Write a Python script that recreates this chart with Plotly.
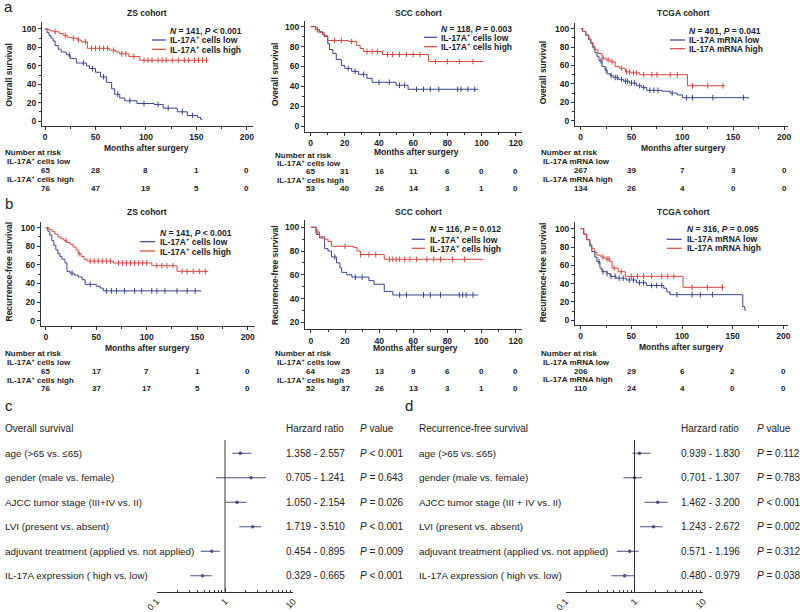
import numpy as np
import plotly.graph_objects as go

W, H = 800, 612

# ---------------- Kaplan-Meier curves (months, survival %) ----------------
# a: overall survival
a_zs_low_t = [0, 2, 4, 6, 8, 10, 13, 16, 21, 25, 31, 41, 44, 50, 55, 61, 66, 69, 74, 79, 91, 108, 117, 131, 141, 151, 154, 156]
a_zs_low_s = [100, 96, 93, 90, 87, 82, 78, 75, 72, 68, 63, 60, 57, 53, 48, 42, 35, 29, 25, 22, 19, 18, 14, 10, 6, 4, 2, 2]
a_zs_high_t = [0, 4, 8, 14, 18, 22, 26, 32, 36, 42, 64, 70, 74, 83, 94, 162]
a_zs_high_s = [100, 98, 97, 95, 93, 91, 90, 88, 86, 79, 77, 75, 73, 70, 66, 66]
a_zs_low_cens = [24, 38, 47, 58, 72, 84, 98, 112, 122, 136, 146]
a_zs_high_cens = [10, 20, 28, 33, 40, 46, 50, 54, 58, 62, 68, 76, 80, 88, 98, 102, 106, 112, 116,
                  120, 126, 132, 138, 142, 148, 152, 156, 160]

a_scc_low_t = [0, 3, 5, 7, 8, 10, 11, 13, 15, 18, 20, 24, 28, 33, 36, 50, 57, 98]
a_scc_low_s = [100, 97, 95, 92, 90, 83, 77, 73, 67, 61, 58, 55, 52, 48, 44, 41, 37, 37]
a_scc_high_t = [0, 3, 5, 8, 10, 22, 27, 29, 31, 42, 69, 101]
a_scc_high_s = [100, 97, 94, 91, 86, 85, 81, 78, 75, 72, 65, 65]
a_scc_low_cens = [22, 26, 31, 40, 46, 52, 55, 62, 66, 70, 75, 86, 88, 92, 96]
a_scc_high_cens = [4, 14, 18, 24, 33, 36, 39, 45, 48, 52, 56, 60, 64, 73, 80, 87, 95]

a_tcga_low_t = [0, 2, 5, 8, 10, 12, 14, 16, 18, 21, 24, 26, 29, 32, 37, 42, 48, 55, 60, 65, 80, 88, 95, 100, 165]
a_tcga_low_s = [100, 97, 93, 88, 84, 79, 74, 70, 65, 59, 55, 51, 49, 47, 45, 43, 41, 38, 36, 33, 32, 30, 28, 25, 24]
a_tcga_high_t = [0, 2, 5, 8, 10, 12, 14, 17, 21, 25, 29, 34, 38, 44, 50, 58, 105, 142]
a_tcga_high_s = [100, 97, 93, 89, 85, 81, 77, 73, 68, 66, 64, 59, 57, 53, 52, 50, 38, 38]
a_tcga_low_cens = [20, 25, 30, 34, 36, 40, 44, 46, 50, 53, 58, 62, 68, 72, 76, 90, 104, 110, 130, 160]
a_tcga_high_cens = [22, 27, 31, 40, 45, 48, 52, 55, 62, 70, 75, 88, 95, 110, 125, 140]

# b: recurrence-free survival
b_zs_low_t = [0, 2, 4, 6, 8, 10, 12, 14, 16, 19, 21, 24, 28, 32, 36, 39, 50, 54, 57, 154]
b_zs_low_s = [100, 96, 92, 86, 81, 76, 72, 69, 66, 62, 53, 51, 49, 47, 44, 39, 37, 35, 32, 32]
b_zs_high_t = [0, 3, 6, 9, 12, 15, 18, 21, 24, 27, 30, 32, 35, 38, 41, 67, 105, 130, 161]
b_zs_high_s = [100, 98, 96, 93, 90, 88, 86, 84, 82, 79, 76, 72, 69, 66, 64, 62, 59, 53, 53]
b_zs_low_cens = [26, 44, 60, 65, 70, 78, 88, 95, 105, 110, 118, 130, 140, 148]
b_zs_high_cens = [20, 33, 44, 48, 52, 56, 60, 64, 72, 76, 80, 84, 88, 92, 96, 100, 110, 115, 120,
                  126, 135, 140, 146, 152, 158]

b_scc_low_t = [0, 3, 5, 8, 10, 12, 15, 17, 18, 21, 24, 34, 37, 43, 48, 98]
b_scc_low_s = [100, 94, 91, 82, 80, 75, 70, 66, 62, 60, 58, 55, 52, 46, 43, 43]
b_scc_high_t = [0, 3, 5, 8, 10, 12, 25, 27, 29, 43, 101]
b_scc_high_s = [100, 96, 92, 90, 88, 84, 83, 80, 77, 73, 73]
b_scc_low_cens = [14, 26, 30, 52, 56, 66, 70, 76, 87, 89, 91, 95]
b_scc_high_cens = [4, 20, 29, 34, 38, 46, 48, 50, 52, 55, 58, 62, 68, 72, 76, 83, 90]

b_tcga_low_t = [0, 3, 6, 9, 11, 14, 16, 19, 21, 26, 29, 35, 45, 55, 65, 82, 85, 88, 160, 162, 163]
b_tcga_low_s = [100, 94, 88, 81, 75, 69, 64, 57, 53, 51, 48, 46, 44, 41, 38, 35, 31, 28, 15, 11, 11]
b_tcga_high_t = [0, 3, 6, 9, 11, 14, 16, 20, 24, 29, 31, 37, 44, 101, 142]
b_tcga_high_s = [100, 94, 88, 83, 78, 74, 71, 69, 67, 64, 57, 53, 48, 36, 36]
b_tcga_low_cens = [18, 22, 26, 30, 34, 38, 42, 48, 52, 58, 62, 70, 75, 80, 95, 110, 118, 130]
b_tcga_high_cens = [22, 26, 28, 33, 40, 50, 56, 62, 70, 80, 86, 92, 110, 125, 140]

# ---------------- Number at risk ----------------
risk_t_long = [0, 50, 100, 150, 200]
risk_t_scc = [0, 20, 40, 60, 80, 100, 120]
a_zs_risk_low = [65, 28, 8, 1, 0]
a_zs_risk_high = [76, 47, 19, 5, 0]
a_scc_risk_low = [65, 31, 16, 11, 6, 0, 0]
a_scc_risk_high = [53, 40, 26, 14, 3, 1, 0]
a_tcga_risk_low = [267, 39, 7, 3, 0]
a_tcga_risk_high = [134, 26, 4, 0, 0]
b_zs_risk_low = [65, 17, 7, 1, 0]
b_zs_risk_high = [76, 37, 17, 5, 0]
b_scc_risk_low = [64, 25, 13, 9, 6, 0, 0]
b_scc_risk_high = [52, 37, 26, 13, 3, 1, 0]
b_tcga_risk_low = [206, 29, 6, 2, 0]
b_tcga_risk_high = [110, 24, 4, 0, 0]

# ---------------- Forest plots ----------------
c_names = ["age (>65 vs. ≤65)", "gender (male vs. female)", "AJCC tumor stage (III+IV vs. II)",
           "LVI (present vs. absent)", "adjuvant treatment (applied vs. not applied)",
           "IL-17A expression ( high vs. low)"]
c_hr = [1.68, 2.41, 1.50, 2.55, 0.64, 0.47]
c_lo = [1.28, 0.74, 1.01, 1.62, 0.44, 0.31]
c_hi = [2.44, 4.00, 2.08, 3.38, 0.84, 0.64]
c_ci = ["1.358 - 2.557", "0.705 - 1.241", "1.050 - 2.154", "1.719 - 3.510", "0.454 - 0.895", "0.329 - 0.665"]
c_p = ["< 0.001", "= 0.643", "= 0.026", "< 0.001", "= 0.009", "< 0.001"]

d_names = ["age (>65 vs. ≤65)", "gender (male vs. female)", "AJCC tumor stage (III + IV vs. II)",
           "LVI (present vs. absent)", "adjuvant treatment (applied vs. not applied)",
           "IL-17A expression ( high vs. low)"]
d_hr = [1.18, 1.00, 2.18, 1.89, 0.85, 0.72]
d_lo = [0.93, 0.69, 1.40, 1.21, 0.55, 0.46]
d_hi = [1.70, 1.29, 3.04, 2.56, 1.15, 1.00]
d_ci = ["0.939 - 1.830", "0.701 - 1.307", "1.462 - 3.200", "1.243 - 2.672", "0.571 - 1.196", "0.480 - 0.979"]
d_p = ["= 0.112", "= 0.783", "< 0.001", "= 0.002", "= 0.312", "= 0.038"]
rows = [1, 2, 3, 4, 5, 6]

BLUE = "#39448f"
RED = "#d8463e"
DARK = "#4a4f7c"
INK = "#222222"
FONT = "Liberation Sans, Arial, sans-serif"
NARROW = "Liberation Sans Narrow, Arial Narrow, Liberation Sans, sans-serif"

fig = go.Figure()
annotations = []
shapes = []


def ann(x, y, s, size=8.5, bold=False, xanchor="left", xref="paper", yref="paper",
        family=FONT, angle=0):
    if xref == "paper":
        x = x / W
    if yref == "paper":
        y = 1 - y / H
    annotations.append(dict(x=x, y=y, xref=xref, yref=yref, text=f"<b>{s}</b>" if bold else s,
                            showarrow=False, xanchor=xanchor, yanchor="middle", textangle=angle,
                            borderpad=0, font=dict(size=size, family=family, color=INK)))


def step_at(t, s, tc):
    idx = np.searchsorted(np.array(t), np.array(tc), side="right") - 1
    return np.array(s)[idx]


def axkey(letter, n):
    return f"{letter}axis" if n == 1 else f"{letter}axis{n}"


def ref(letter, n):
    return letter if n == 1 else f"{letter}{n}"


def km(n, box, xr, yr, xdt, curves, title, title_xy, ytitle, ytitle_xy, xtitle_xy, legend, risk):
    x0, x1, y0, y1 = box
    tickfont = dict(size=8.5, family=FONT, color=INK, weight="bold")
    fig.update_layout({
        axkey("x", n): dict(domain=[x0 / W, x1 / W], range=xr, anchor=ref("y", n), showline=True,
                            linecolor="#333", linewidth=1, ticks="outside", ticklen=3, tickcolor="#333",
                            tick0=0, dtick=xdt, showgrid=False, zeroline=False, tickfont=tickfont,
                            minor=dict(ticks="outside", ticklen=2, dtick=xdt / 2, tickcolor="#333")),
        axkey("y", n): dict(domain=[1 - y1 / H, 1 - y0 / H], range=yr, anchor=ref("x", n), showline=True,
                            linecolor="#333", linewidth=1, ticks="outside", ticklen=3, tickcolor="#333",
                            tick0=0, dtick=20, showgrid=False, zeroline=False, tickfont=tickfont,
                            minor=dict(ticks="outside", ticklen=2, dtick=10, tickcolor="#333")),
    })
    for t, s, cens, color in curves:
        fig.add_trace(go.Scatter(x=t, y=s, mode="lines", line=dict(shape="hv", width=1, color=color),
                                 xaxis=ref("x", n), yaxis=ref("y", n), hoverinfo="skip"))
        fig.add_trace(go.Scatter(x=cens, y=step_at(t, s, cens), mode="markers",
                                 marker=dict(symbol="line-ns", size=4, line=dict(width=1, color=color)),
                                 xaxis=ref("x", n), yaxis=ref("y", n), hoverinfo="skip"))
    ann(title_xy[0], title_xy[1], title, bold=True, xanchor="center")
    ann(ytitle_xy[0], ytitle_xy[1], ytitle, bold=True, xanchor="center", angle=-90)
    ann(xtitle_xy[0], xtitle_xy[1], "Months after surgery", bold=True, xanchor="center")
    lx0, lx1, tx, yN, ylow, yhigh, ntext, lowlab, highlab = legend
    ann(tx, yN, ntext, size=8.5, bold=True)
    ann(tx, ylow, lowlab, size=8.5, bold=True)
    ann(tx, yhigh, highlab, size=8.5, bold=True)
    for yy, col in ((ylow, BLUE), (yhigh, RED)):
        shapes.append(dict(type="line", xref="paper", yref="paper", x0=lx0 / W, x1=lx1 / W,
                           y0=1 - yy / H, y1=1 - yy / H, line=dict(color=col, width=1.2)))
    times, low_n, high_n, lab_x, ry = risk
    ann(lab_x - 2, ry[0], "Number at risk", size=8, bold=True)
    ann(lab_x, ry[1], lowlab, size=8, bold=True)
    ann(lab_x, ry[3], highlab, size=8, bold=True)
    for tt, lo, hi in zip(times, low_n, high_n):
        ann(tt, ry[2], str(lo), size=8, bold=True, xanchor="center", xref=ref("x", n), family=NARROW)
        ann(tt, ry[4], str(hi), size=8, bold=True, xanchor="center", xref=ref("x", n), family=NARROW)


LOW_IHC = "IL-17A<sup>+</sup> cells low"
HIGH_IHC = "IL-17A<sup>+</sup> cells high"
LOW_RNA = "IL-17A mRNA low"
HIGH_RNA = "IL-17A mRNA high"
ra = [152.7, 161.5, 170.2, 179, 188]
rb = [353.3, 362.3, 371, 379.6, 388.3]

km(1, (42, 253, 21.7, 126), [-3, 206], [-5.4, 107.9], 50,
   [(a_zs_low_t, a_zs_low_s, a_zs_low_cens, BLUE), (a_zs_high_t, a_zs_high_s, a_zs_high_cens, RED)],
   "ZS cohort", (146.7, 13.3), "Overall survival", (8.5, 75), (146.7, 147.7),
   (152, 166, 169, 31, 40, 49.3, "<i>N</i> = 141, <i>P</i> < 0.001", LOW_IHC, HIGH_IHC),
   (risk_t_long, a_zs_risk_low, a_zs_risk_high, 6, ra))
km(2, (305, 521.7, 20.7, 131.7), [-3.3, 123.5], [-5.7, 106], 20,
   [(a_scc_low_t, a_scc_low_s, a_scc_low_cens, BLUE), (a_scc_high_t, a_scc_high_s, a_scc_high_cens, RED)],
   "SCC cohort", (418.3, 13.3), "Overall survival", (275, 75), (416.7, 151.7),
   (424, 437, 440, 29, 37.3, 46.7, "<i>N</i> = 118, <i>P</i> = 0.003", LOW_IHC, HIGH_IHC),
   (risk_t_scc, a_scc_risk_low, a_scc_risk_high, 276, [155, 163.5, 171.8, 180.2, 188.3]))
km(3, (575, 788, 23.3, 126), [-5.6, 203.9], [-5.8, 105.9], 50,
   [(a_tcga_low_t, a_tcga_low_s, a_tcga_low_cens, BLUE), (a_tcga_high_t, a_tcga_high_s, a_tcga_high_cens, RED)],
   "TCGA cohort", (683.3, 13.3), "Overall survival", (543.3, 73), (683.3, 147.7),
   (670, 685, 688, 31, 40, 48.7, "<i>N</i> = 401, <i>P</i> = 0.041", LOW_RNA, HIGH_RNA),
   (risk_t_long, a_tcga_risk_low, a_tcga_risk_high, 542, ra))
km(4, (40.7, 255, 221.7, 325.7), [-5, 207.2], [-5.4, 106.3], 50,
   [(b_zs_low_t, b_zs_low_s, b_zs_low_cens, BLUE), (b_zs_high_t, b_zs_high_s, b_zs_high_cens, RED)],
   "ZS cohort", (147, 212.3), "Recurrence-free survival", (8.5, 272), (147, 348.3),
   (140, 155, 159, 232.7, 241.7, 251, "<i>N</i> = 141, <i>P</i> < 0.001", LOW_IHC, HIGH_IHC),
   (risk_t_long, b_zs_risk_low, b_zs_risk_high, 6, rb))
km(5, (305, 521.7, 220, 329.3), [-3.5, 123.6], [14.1, 106.1], 20,
   [(b_scc_low_t, b_scc_low_s, b_scc_low_cens, BLUE), (b_scc_high_t, b_scc_high_s, b_scc_high_cens, RED)],
   "SCC cohort", (418, 212.3), "Recurrence-free survival", (275, 275), (415, 348.3),
   (411.7, 425, 429.3, 229.3, 239.3, 248.3, "<i>N</i> = 116, <i>P</i> = 0.012", LOW_IHC, HIGH_IHC),
   (risk_t_scc, b_scc_risk_low, b_scc_risk_high, 276, rb))
km(6, (575, 788.3, 221.7, 325), [-5.6, 204.9], [-5.1, 107.6], 50,
   [(b_tcga_low_t, b_tcga_low_s, b_tcga_low_cens, BLUE), (b_tcga_high_t, b_tcga_high_s, b_tcga_high_cens, RED)],
   "TCGA cohort", (683, 212.3), "Recurrence-free survival", (543.3, 272), (681.7, 347.3),
   (666.7, 681.7, 686, 229.3, 239.3, 248.3, "<i>N</i> = 316, <i>P</i> = 0.095", LOW_RNA, HIGH_RNA),
   (risk_t_long, b_tcga_risk_low, b_tcga_risk_high, 542, rb))


def forest(n, x0, x1, names, hr, lo, hi, ci, pv, header, lab_x, ci_x, p_x):
    minor_vals = [v * m for v in (0.1, 1) for m in range(2, 10)]
    fig.update_layout({
        axkey("x", n): dict(domain=[x0 / W, x1 / W], type="log", range=[-1, 1], anchor=ref("y", n),
                            showline=True, linecolor="#333", linewidth=1, ticks="inside", ticklen=4,
                            tickcolor="#333", tickvals=[0.1, 1, 10], ticktext=["0.1", "1", "10"],
                            tickangle=-45, showgrid=False, zeroline=False,
                            tickfont=dict(size=9, family=FONT, color=INK),
                            minor=dict(tickvals=minor_vals, ticks="inside", ticklen=2, tickcolor="#333")),
        axkey("y", n): dict(domain=[1 - 591.7 / H, 1 - 440 / H], range=[6.65, 0.46], visible=False,
                            anchor=ref("x", n)),
    })
    shapes.append(dict(type="line", xref=ref("x", n), yref=f"{ref('y', n)} domain", x0=1, x1=1, y0=0, y1=1,
                       line=dict(color="#333", width=1)))
    hr_a, lo_a, hi_a = np.array(hr), np.array(lo), np.array(hi)
    fig.add_trace(go.Scatter(x=hr, y=rows, mode="markers", xaxis=ref("x", n), yaxis=ref("y", n),
                             marker=dict(size=3.5, color=DARK),
                             error_x=dict(type="data", symmetric=False, array=hi_a - hr_a,
                                          arrayminus=hr_a - lo_a, width=0, thickness=1, color=DARK)))
    ann(lab_x, 428.5, header, size=10)
    ann(ci_x, 428.5, "Harzard ratio", size=10)
    ann(p_x, 428.5, "<i>P</i> value", size=10)
    for r, nm, c, p in zip(rows, names, ci, pv):
        ann(lab_x, r, nm, size=9.9, yref=ref("y", n))
        ann(ci_x, r, c, size=10, yref=ref("y", n))
        ann(p_x, r, f"<i>P</i> {p}", size=10, yref=ref("y", n))


forest(7, 156.7, 293.3, c_names, c_hr, c_lo, c_hi, c_ci, c_p, "Overall survival", 4, 285, 359)
forest(8, 565.7, 703.3, d_names, d_hr, d_lo, d_hi, d_ci, d_p, "Recurrence-free survival", 418.3, 680, 756)

for lab, x, y in (("a", 3, 7), ("b", 4, 204), ("c", 4, 405), ("d", 404, 405)):
    ann(x, y, lab, size=15)

fig.update_layout(width=W, height=H, margin=dict(l=0, r=0, t=0, b=0, autoexpand=False), showlegend=False,
                  paper_bgcolor="white", plot_bgcolor="white", font=dict(family=FONT, color=INK),
                  annotations=annotations, shapes=shapes)

# drop the page's default body margin so the figure sits at the window's corner
fig.write_html("out.html", config={"displayModeBar": False},
               post_script="document.body.style.margin='0';")
